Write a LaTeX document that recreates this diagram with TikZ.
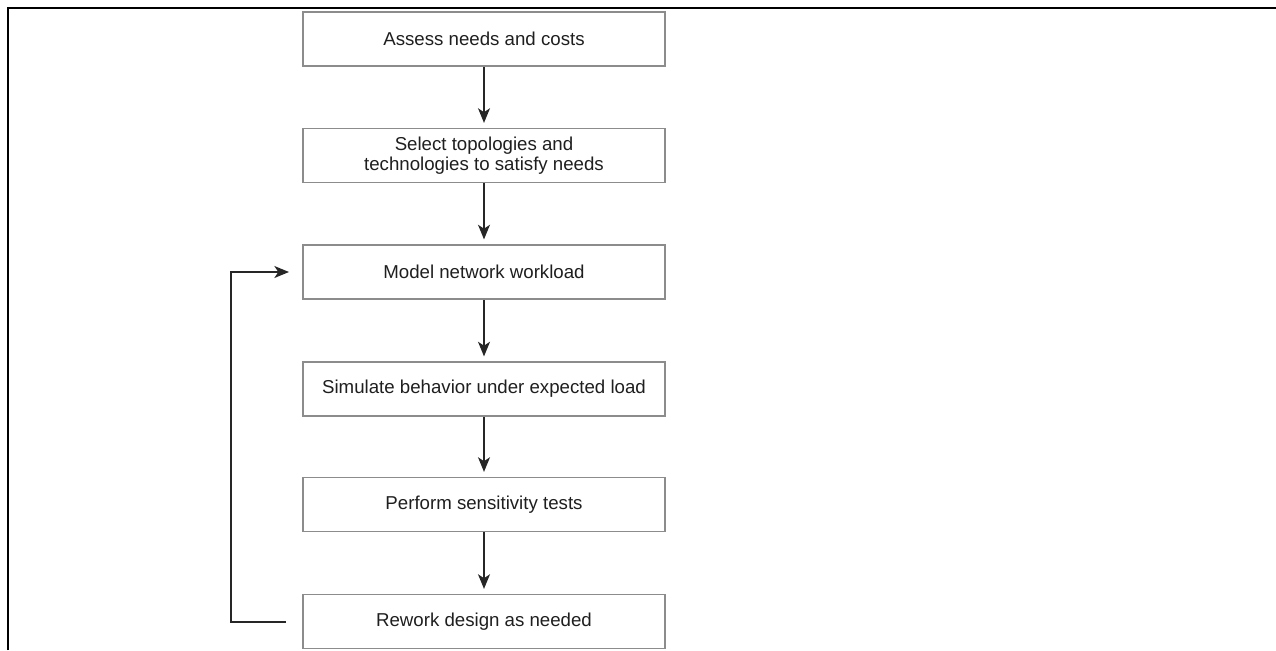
\documentclass[tikz,border=0pt]{standalone}
\usepackage{fontspec}
\setmainfont{Liberation Sans}
\usetikzlibrary{arrows.meta}
\tikzset{
  stepbox/.style={draw=black!45, line width=1.4pt, fill=white, minimum width=271.5pt, minimum height=40.5pt, inner sep=0pt, align=center, text=black!88, font=\fontsize{14}{15}\selectfont},
  arr/.style={draw=black!85, line width=1.1pt, -{Stealth[length=11pt,width=9pt,inset=3pt]}},
  plain/.style={draw=black!75, line width=1.1pt},
  frame/.style={draw=black, line width=1.8pt}
}
\begin{document}
\begin{tikzpicture}[x=0.75pt,y=-0.75pt]
\useasboundingbox (0,0) rectangle (1276,650);
\draw[frame] (8,650) -- (8,8) -- (1276,8);
\node[stepbox] (a) at (484,39) {Assess needs and costs};
\node[stepbox] (b) at (484,155.5) {Select topologies and\\technologies to satisfy needs};
\node[stepbox] (c) at (484,272) {Model network workload};
\node[stepbox] (d) at (484,389) {Simulate behavior under expected load};
\node[stepbox] (e) at (484,504.5) {Perform sensitivity tests};
\node[stepbox] (f) at (484,621.5) {Rework design as needed};
\draw[arr, shorten >=3.5pt] (a.south) -- (b.north);
\draw[arr, shorten >=3.5pt] (b.south) -- (c.north);
\draw[arr, shorten >=3.5pt] (c.south) -- (d.north);
\draw[arr, shorten >=3.5pt] (d.south) -- (e.north);
\draw[arr, shorten >=3.5pt] (e.south) -- (f.north);
\coordinate (fs) at (286,622);
\coordinate (fc) at (231,622);
\coordinate (ft) at (289,272);
\draw[arr] (fs) -- (fc) |- (ft);
\end{tikzpicture}
\end{document}
